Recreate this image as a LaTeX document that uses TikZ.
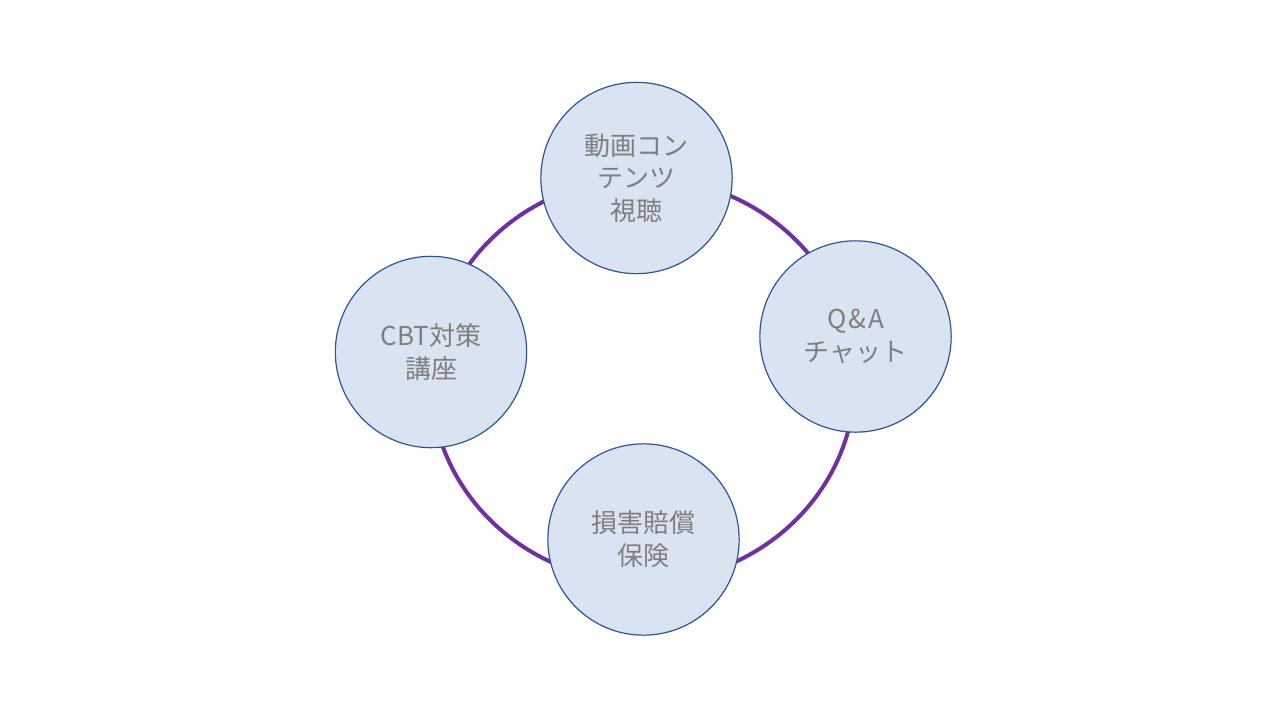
\documentclass[tikz,border=0pt]{standalone}
\usepackage{fontspec}
\setmainfont{Noto Sans CJK JP}
\definecolor{ringc}{HTML}{7030A0}
\definecolor{fillc}{HTML}{DAE3F1}
\definecolor{edgec}{HTML}{2F5597}
\definecolor{textc}{HTML}{7F7F7F}
\tikzset{
  item/.style={circle, draw=edgec, line width=0.9pt, fill=fillc, minimum size=143.5pt, inner sep=0pt, align=center, text=textc, font=\fontsize{19.5pt}{24.5pt}\selectfont},
  ring/.style={draw=ringc, line width=3pt}
}
\begin{document}
\begin{tikzpicture}[x=0.75pt,y=-0.75pt]
\useasboundingbox (0,0) rectangle (1280,720);
\fill[white] (0,0) rectangle (1280,720);
\draw[ring] (643,380) ellipse [x radius=212, y radius=202];
\node[item] (video) at (636.5,178) {動画コン\\テンツ\\視聴};
\node[item] (qa) at (855.5,336.5) {Q\kern1.5pt\&\kern1.5pt A\\チャット};
\node[item] (ins) at (643.5,539.5) {損害賠償\\保険};
\node[item] (cbt) at (431,352) {CBT対策\\講座};
\end{tikzpicture}
\end{document}
